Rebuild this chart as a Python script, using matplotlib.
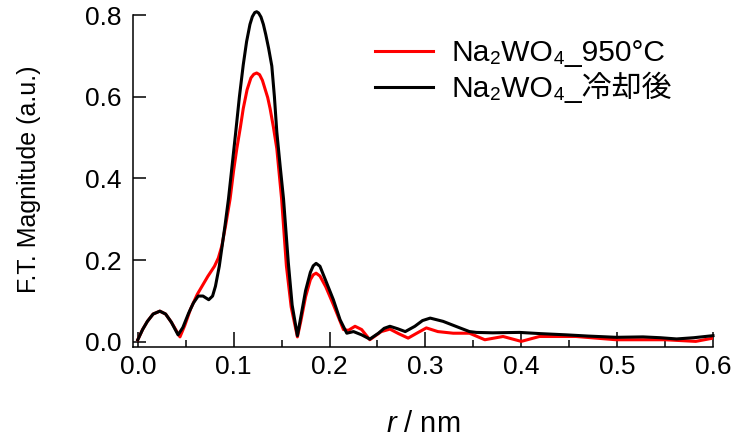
import matplotlib
matplotlib.use('Agg')
import matplotlib.pyplot as plt

plt.rcParams['font.family'] = ['Liberation Sans', 'Noto Sans CJK JP', 'DejaVu Sans']
plt.rcParams['mathtext.fontset'] = 'custom'
plt.rcParams['mathtext.rm'] = 'Liberation Sans'
plt.rcParams['mathtext.it'] = 'Liberation Sans:italic'

# Na2WO4 after cooling (black)
r_cool = [0.000, 0.005, 0.010, 0.016, 0.023, 0.029, 0.035, 0.042, 0.047, 0.053,
          0.058, 0.063, 0.068, 0.074, 0.078, 0.081, 0.085, 0.088, 0.091, 0.0946,
          0.0984, 0.102, 0.106, 0.110, 0.1135, 0.117, 0.1195, 0.122, 0.124, 0.126,
          0.1285, 0.131, 0.1335, 0.1365, 0.1398, 0.1425, 0.145, 0.1485, 0.152, 0.157,
          0.161, 0.1665, 0.170, 0.175, 0.180, 0.183, 0.186, 0.190, 0.196, 0.204,
          0.211, 0.218, 0.225, 0.2335, 0.242, 0.251, 0.257, 0.263, 0.271, 0.279,
          0.289, 0.297, 0.305, 0.3185, 0.336, 0.346, 0.353, 0.370, 0.398, 0.420,
          0.447, 0.470, 0.499, 0.527, 0.545, 0.562, 0.580, 0.600]
ft_cool = [0.005, 0.030, 0.050, 0.068, 0.075, 0.068, 0.048, 0.017, 0.035, 0.070,
           0.095, 0.112, 0.112, 0.103, 0.112, 0.136, 0.185, 0.235, 0.285, 0.350,
           0.432, 0.510, 0.600, 0.678, 0.735, 0.777, 0.796, 0.806, 0.808, 0.805,
           0.795, 0.777, 0.752, 0.718, 0.675, 0.600, 0.514, 0.430, 0.350, 0.194,
           0.090, 0.015, 0.060, 0.125, 0.170, 0.186, 0.192, 0.185, 0.150, 0.103,
           0.054, 0.021, 0.025, 0.017, 0.0066, 0.021, 0.033, 0.038, 0.032, 0.025,
           0.038, 0.052, 0.058, 0.050, 0.034, 0.025, 0.023, 0.022, 0.023, 0.020,
           0.017, 0.014, 0.011, 0.012, 0.010, 0.007, 0.010, 0.015]

# Na2WO4 at 950 C (red)
r_hot = [0.000, 0.005, 0.010, 0.016, 0.023, 0.029, 0.035, 0.044, 0.049, 0.055,
         0.062, 0.067, 0.073, 0.080, 0.084, 0.0877, 0.092, 0.0963, 0.100, 0.1033,
         0.107, 0.110, 0.114, 0.118, 0.121, 0.124, 0.127, 0.130, 0.133, 0.1355,
         0.138, 0.1415, 0.145, 0.150, 0.155, 0.160, 0.1665, 0.170, 0.175, 0.180,
         0.183, 0.186, 0.190, 0.196, 0.204, 0.2145, 0.2196, 0.2266, 0.2335, 0.242,
         0.254, 0.263, 0.272, 0.282, 0.291, 0.301, 0.313, 0.329, 0.346, 0.362,
         0.381, 0.400, 0.419, 0.457, 0.499, 0.550, 0.582, 0.600]
ft_hot = [0.005, 0.030, 0.050, 0.068, 0.075, 0.068, 0.048, 0.012, 0.040, 0.080,
          0.116, 0.136, 0.160, 0.185, 0.205, 0.235, 0.290, 0.350, 0.420, 0.473,
          0.525, 0.571, 0.617, 0.646, 0.655, 0.658, 0.654, 0.640, 0.617, 0.598,
          0.571, 0.525, 0.473, 0.350, 0.186, 0.085, 0.012, 0.050, 0.110, 0.152,
          0.164, 0.168, 0.161, 0.135, 0.091, 0.030, 0.028, 0.038, 0.030, 0.005,
          0.025, 0.031, 0.020, 0.009, 0.021, 0.034, 0.025, 0.021, 0.021, 0.005,
          0.013, 0.001, 0.013, 0.013, 0.005, 0.005, 0.001, 0.009]

x_ticks = [0.0, 0.1, 0.2, 0.3, 0.4, 0.5, 0.6]
x_minor = [0.05, 0.15, 0.25, 0.35, 0.45, 0.55]
y_ticks = [0.0, 0.2, 0.4, 0.6, 0.8]

label_hot = 'Na₂WO₄_950°C'
label_cool = 'Na₂WO₄_冷却後'

fig = plt.figure(figsize=(7.32, 4.38), dpi=100)
ax = fig.add_axes([133/732, 1-346.7/438, 580/732, 331.7/438])

ax.plot(r_hot, ft_hot, color='#ff0000', lw=2.2, label=label_hot)
ax.plot(r_cool, ft_cool, color='black', lw=2.2, label=label_cool, clip_on=False)

ax.set_xlim(-0.005, 0.6)
ax.set_ylim(-0.012, 0.8)

for s in ['top', 'right']:
    ax.spines[s].set_visible(False)
for s in ['left', 'bottom']:
    ax.spines[s].set_linewidth(1.1)

ax.set_xticks(x_ticks)
ax.set_xticks(x_minor, minor=True)
ax.set_xticklabels(['%.1f' % v for v in x_ticks])
ax.set_yticks(y_ticks)
ax.set_yticklabels(['%.1f' % v for v in y_ticks])
ax.tick_params(axis='x', which='major', direction='in', length=11, width=1.1, labelsize=19, pad=6)
ax.tick_params(axis='x', which='minor', direction='in', length=5, width=1.1)
ax.tick_params(axis='y', which='major', direction='in', length=9.5, width=1.1, labelsize=19, pad=8)

ax.set_xlabel(r'$r$ / nm', fontsize=21)
ax.xaxis.set_label_coords(0.5, -0.19)
ax.set_ylabel('F.T. Magnitude (a.u.)', fontsize=18)
ax.yaxis.set_label_coords(-0.158, 0.506)

ax.legend(loc='upper left', bbox_to_anchor=(360/732, 1-24/438), bbox_transform=fig.transFigure,
          frameon=False, borderpad=0, fontsize=21.6, handlelength=1.93, handletextpad=0.63,
          labelspacing=0.17)

plt.savefig('out.png', dpi=100)
